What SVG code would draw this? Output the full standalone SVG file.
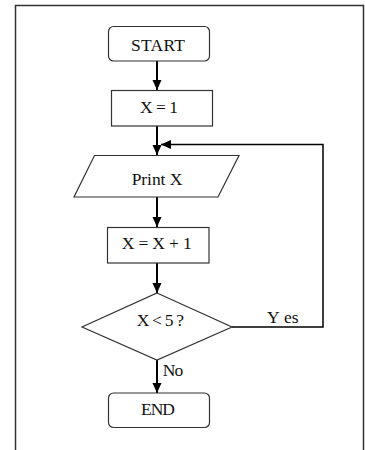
<svg xmlns="http://www.w3.org/2000/svg" width="365" height="450" viewBox="0 0 365 450">
  <style>
    .box { fill: #fff; stroke: #333; stroke-width: 1.2; }
    .t { font-family: "Liberation Serif", "Times New Roman", serif; font-size: 17.5px; fill: #111; }
    .arr { stroke: #000; stroke-width: 2; fill: none; }
    .fb { stroke: #000; stroke-width: 1.5; fill: none; }
  </style>
  <defs>
    <marker id="ah" markerUnits="userSpaceOnUse" markerWidth="12" markerHeight="12" viewBox="0 0 12 12" refX="11" refY="6" orient="auto">
      <path d="M1,1.5 L11,6 L1,10.5 Z" fill="#000"/>
    </marker>
  </defs>
  <rect x="0" y="0" width="365" height="450" fill="#fff"/>
  <path d="M15.5,460 V5.5 H363.5 V460" fill="none" stroke="#333" stroke-width="1.5"/>

  <g id="connectors">
    <line class="arr" x1="157" y1="61" x2="157" y2="90" marker-end="url(#ah)"/>
    <line class="arr" x1="157" y1="126" x2="157" y2="155" marker-end="url(#ah)"/>
    <line class="arr" x1="157" y1="197" x2="157" y2="227" marker-end="url(#ah)"/>
    <line class="arr" x1="157" y1="263" x2="157" y2="293" marker-end="url(#ah)"/>
    <line class="arr" x1="157" y1="360" x2="157" y2="393" marker-end="url(#ah)"/>
    <polyline class="fb" points="232,327 323,327 323,144.5 161,144.5" marker-end="url(#ah)"/>
    <text class="t" x="267" y="322.5">Y<tspan dx="6">es</tspan></text>
    <text class="t" x="162.7" y="376" textLength="20.6" lengthAdjust="spacing">No</text>
  </g>

  <g id="start">
    <rect class="box" x="108.5" y="26.5" width="101" height="34.5" rx="5"/>
    <text class="t" x="131" y="50.7" textLength="54" lengthAdjust="spacing">START</text>
  </g>
  <g id="init">
    <rect class="box" x="111.5" y="90.5" width="101" height="35.5"/>
    <text class="t" x="140" y="113.3" textLength="38" lengthAdjust="spacing">X = 1</text>
  </g>
  <g id="print">
    <polygon class="box" points="94.5,155.5 239,155.5 218,197 74,197"/>
    <text class="t" x="131.7" y="185" textLength="50.6" lengthAdjust="spacing">Print X</text>
  </g>
  <g id="increment">
    <rect class="box" x="107.5" y="227.5" width="101.5" height="35.5"/>
    <text class="t" x="121.7" y="249" textLength="70" lengthAdjust="spacing">X = X + 1</text>
  </g>
  <g id="decision">
    <polygon class="box" points="157,293 232,327 157,360 82,327"/>
    <text class="t" x="136.7" y="325.7" textLength="47.3" lengthAdjust="spacing">X&lt;5?</text>
  </g>
  <g id="end">
    <rect class="box" x="108.5" y="393" width="101" height="34.5" rx="5"/>
    <text class="t" x="141" y="415" textLength="34" lengthAdjust="spacing">END</text>
  </g>
</svg>
